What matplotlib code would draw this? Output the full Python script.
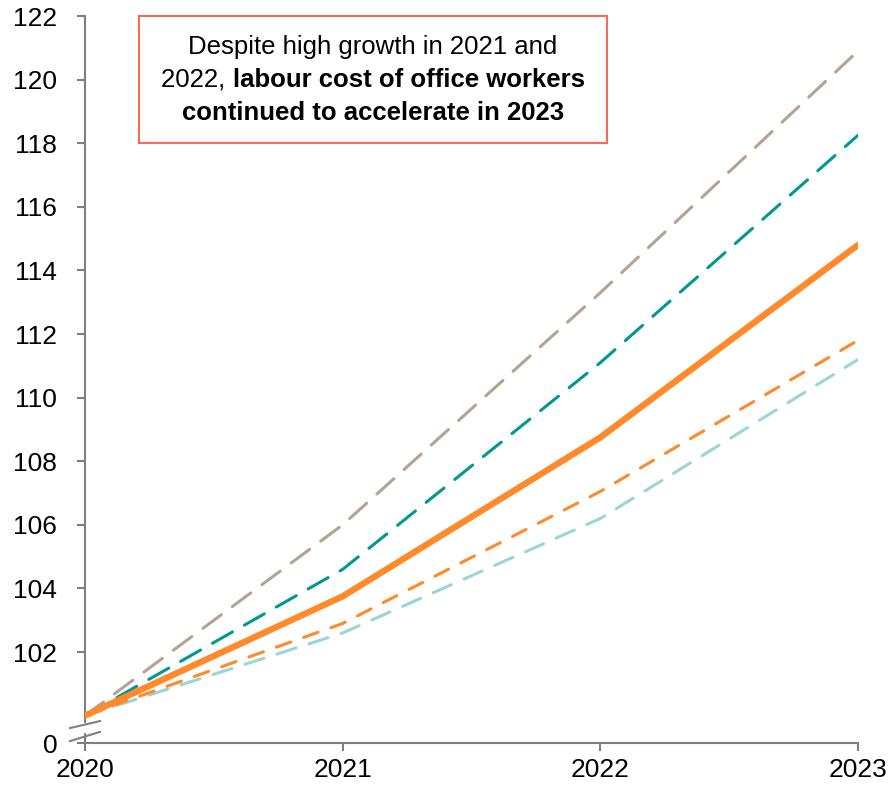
import matplotlib
matplotlib.use("Agg")
import matplotlib.pyplot as plt
import matplotlib.transforms as mtransforms

plt.rcParams['font.family'] = ['Liberation Sans', 'DejaVu Sans']

years = [2020, 2021, 2022, 2023]
tan_series = [100, 106.0, 113.3, 120.9]
teal_series = [100, 104.6, 111.1, 118.25]
orange_solid = [100, 103.75, 108.75, 114.8]
orange_dashed = [100, 102.9, 107.05, 111.8]
light_teal_series = [100, 102.6, 106.2, 111.2]

ytick_vals = [102, 104, 106, 108, 110, 112, 114, 116, 118, 120, 122]
ybottom = 99.14

fig = plt.figure(figsize=(8.91, 7.89), dpi=100)
ax = fig.add_axes([85/891, 1-743/789, (858-85)/891, (743-16)/789])

axis_col = '#7F7F7F'
lw_d = 2.2
ax.plot(years, tan_series, color='#B5A391', lw=lw_d, dashes=(7.5, 4.5), dash_capstyle='round', zorder=3)
ax.plot(years, teal_series, color='#00998F', lw=lw_d, dashes=(7.5, 4.5), dash_capstyle='round', zorder=3)
ax.plot(years, light_teal_series, color='#9BD6D4', lw=lw_d, dashes=(6.5, 4.5), dash_capstyle='round', zorder=3)
ax.plot(years, orange_dashed, color='#FF8A2B', lw=lw_d, dashes=(5, 4.5), dash_capstyle='round', zorder=3)
ax.plot(years, orange_solid, color='#FF8A2B', lw=4.6, solid_capstyle='round', zorder=4)

ax.set_xlim(2020, 2023)
ax.set_ylim(ybottom, 122)
ax.set_xticks(years)
ax.set_xticklabels([str(y) for y in years])
ax.set_yticks([ybottom] + ytick_vals)
ax.set_yticklabels(['0'] + [str(v) for v in ytick_vals])

for s in ['top', 'right']:
    ax.spines[s].set_visible(False)
for s in ['left', 'bottom']:
    ax.spines[s].set_color(axis_col)
    ax.spines[s].set_linewidth(1.5)
ax.tick_params(axis='both', colors=axis_col, width=1.5, length=6, labelsize=19,
               labelcolor='black', direction='out')
ax.tick_params(axis='y', pad=14)
ax.tick_params(axis='x', pad=5)

# axis break marks
trans = mtransforms.blended_transform_factory(ax.transAxes, ax.transData)
ax.plot([-0.001, -0.001], [99.52, 99.72], color='white', lw=3, transform=trans, clip_on=False, zorder=5)
ax.plot([-0.0194, 0.0194], [99.61, 99.83], color=axis_col, lw=1.5, transform=trans, clip_on=False, zorder=6)
ax.plot([-0.0194, 0.0194], [99.20, 99.49], color=axis_col, lw=1.5, transform=trans, clip_on=False, zorder=6)

# annotation box
box_ax = fig.add_axes([139/891, 1-143/789, (607-139)/891, (143-16)/789])
box_ax.set_xlim(0, 1)
box_ax.set_ylim(0, 1)
box_ax.set_xticks([])
box_ax.set_yticks([])
for s in box_ax.spines.values():
    s.set_color('#F26B5B')
    s.set_linewidth(1.5)
box_ax.patch.set_facecolor('white')

fs = 18.5
cx = 0.5
box_ax.text(cx, 1-(47-16)/127, 'Despite high growth in 2021 and', ha='center', va='center', fontsize=fs)
box_ax.text(cx, 1-(113-16)/127, 'continued to accelerate in 2023', ha='center', va='center', fontsize=fs, fontweight='bold')

fig.canvas.draw()
renderer = fig.canvas.get_renderer()
y2 = 1-(80-16)/127
t1 = box_ax.text(0, y2, '2022, ', ha='left', va='center', fontsize=fs)
t2 = box_ax.text(0, y2, 'labour cost of office workers', ha='left', va='center', fontsize=fs, fontweight='bold')
w1 = t1.get_window_extent(renderer).width
w2 = t2.get_window_extent(renderer).width
bw = box_ax.get_window_extent(renderer).width
start = 0.5 - (w1 + w2) / 2 / bw
t1.set_x(start)
t2.set_x(start + w1 / bw)

fig.savefig('out.png', dpi=100)
